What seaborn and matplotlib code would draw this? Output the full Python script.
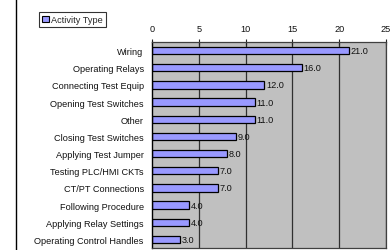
import matplotlib
matplotlib.use("Agg")
import matplotlib.pyplot as plt
import seaborn as sns
import pandas as pd
import numpy as np
from matplotlib.lines import Line2D
from matplotlib.patches import Patch

activities = [
    "Wiring", "Operating Relays", "Connecting Test Equip", "Opening Test Switches",
    "Other", "Closing Test Switches", "Applying Test Jumper", "Testing PLC/HMI CKTs",
    "CT/PT Connections", "Following Procedure", "Applying Relay Settings",
    "Operating Control Handles",
]
counts = [21.0, 16.0, 12.0, 11.0, 11.0, 9.0, 8.0, 7.0, 7.0, 4.0, 4.0, 3.0]
x_ticks = [0, 5, 10, 15, 20, 25]

df = pd.DataFrame({"activity": activities, "count": counts})

sns.set_theme(style="white")
plt.rcParams["font.family"] = ["Liberation Sans", "DejaVu Sans"]
fs = 6.6

fig = plt.figure(figsize=(3.91, 2.51), dpi=100)
ax = fig.add_axes([152 / 391, 1 - 249 / 251, 234 / 391, 206 / 251])
ax.set_facecolor("#C0C0C0")

sns.barplot(data=df, x="count", y="activity", orient="h", color="#9999FF",
            saturation=1, width=0.42, edgecolor="black", linewidth=0.9, ax=ax)

ax.set_xlim(0, 25)
ax.set_ylim(len(activities) - 0.5, -0.5)
ax.xaxis.tick_top()
ax.set_xticks(x_ticks)
ax.set_xticklabels([str(t) for t in x_ticks], fontsize=fs, color="#111111")
ax.tick_params(axis="x", direction="inout", length=5, width=0.8, pad=4, colors="#222222")
ax.tick_params(axis="x", labelcolor="#111111")
for t in x_ticks[1:]:
    ax.axvline(t, color="#303030", lw=0.9, zorder=0.5)

ax.set_yticks(range(len(activities)))
ax.set_yticklabels(activities, fontsize=fs, color="#111111")
ax.tick_params(axis="y", length=0, pad=6)
ax.set_yticks(np.arange(-0.5, len(activities), 1), minor=True)
ax.tick_params(axis="y", which="minor", direction="out", length=3, width=0.8, color="black")

for i, v in enumerate(counts):
    ax.text(v + 0.2, i, f"{v:.1f}", va="center", ha="left", fontsize=fs, color="#111111")

ax.set_xlabel("")
ax.set_ylabel("")
for side in ["top", "right", "bottom"]:
    ax.spines[side].set_color("#404040")
    ax.spines[side].set_linewidth(0.9)
ax.spines["left"].set_color("black")
ax.spines["left"].set_linewidth(1.0)

fig.add_artist(Line2D([15.5 / 391, 15.5 / 391], [0, 1], color="black", lw=1.0))

leg = fig.legend(handles=[Patch(facecolor="#9999FF", edgecolor="black", linewidth=0.8, label="Activity Type")],
                 loc="upper left", bbox_to_anchor=(39 / 391, 1 - 13 / 251), fontsize=fs,
                 frameon=True, fancybox=False, handlelength=0.7, handleheight=0.7,
                 handletextpad=0.3, borderpad=0.35, borderaxespad=0)
leg.get_frame().set_edgecolor("black")
leg.get_frame().set_linewidth(0.8)

fig.savefig("out.png", dpi=100)
